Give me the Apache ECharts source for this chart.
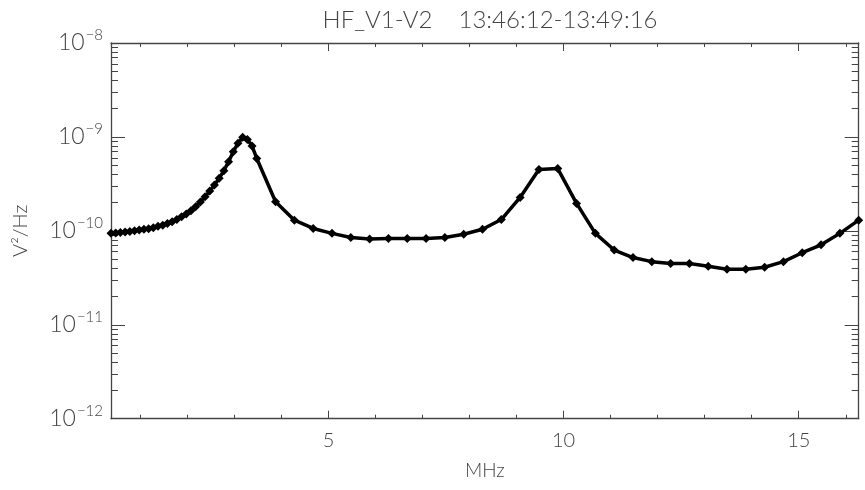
<!DOCTYPE html>
<html>
<head>
<meta charset="utf-8">
<script src="https://cdn.jsdelivr.net/npm/echarts@6/dist/echarts.min.js"></script>
<style>
html,body{margin:0;padding:0;background:#fff;}
#chart{width:865px;height:490px;}
</style>
</head>
<body>
<div id="chart"></div>
<script>
// ---- data ----
var titleText = 'HF_V1-V2    13:46:12-13:49:16';
var xName = 'MHz';
var yName = 'V²/Hz';
var xMin = 0.375, xMax = 16.275;
var yMin = 1e-12, yMax = 1e-8;
var xMajorTicks = [5, 10, 15];
var xMinorTicks = [1, 2, 3, 4, 6, 7, 8, 9, 11, 12, 13, 14, 16];
var yMinorTicks = [2e-12,3e-12,4e-12,5e-12,6e-12,7e-12,8e-12,9e-12,
                   2e-11,3e-11,4e-11,5e-11,6e-11,7e-11,8e-11,9e-11,
                   2e-10,3e-10,4e-10,5e-10,6e-10,7e-10,8e-10,9e-10,
                   2e-9,3e-9,4e-9,5e-9,6e-9,7e-9,8e-9,9e-9];

var freqHF1 = [0.375,0.475,0.575,0.675,0.775,0.875,0.975,1.075,1.175,1.275,
               1.375,1.475,1.575,1.675,1.775,1.875,1.975,2.075,2.175,2.275,
               2.375,2.475,2.575,2.675,2.775,2.875,2.975,3.075,3.175,3.275,
               3.375,3.475];
var psdHF1 = [9.4e-11,9.5e-11,9.6e-11,9.7e-11,9.85e-11,1.0e-10,1.02e-10,1.04e-10,1.05e-10,1.08e-10,
              1.12e-10,1.15e-10,1.2e-10,1.25e-10,1.32e-10,1.41e-10,1.51e-10,1.64e-10,1.81e-10,2.03e-10,
              2.31e-10,2.65e-10,3.08e-10,3.62e-10,4.37e-10,5.45e-10,6.97e-10,8.55e-10,9.9e-10,9.4e-10,
              8.0e-10,5.9e-10];
var freqHF2 = [3.875,4.275,4.675,5.075,5.475,5.875,6.275,6.675,7.075,7.475,
               7.875,8.275,8.675,9.075,9.475,9.875,10.275,10.675,11.075,11.475,
               11.875,12.275,12.675,13.075,13.475,13.875,14.275,14.675,15.075,15.475,
               15.875,16.275];
var psdHF2 = [2.04e-10,1.3e-10,1.06e-10,9.4e-11,8.5e-11,8.2e-11,8.3e-11,8.3e-11,8.3e-11,8.5e-11,
              9.2e-11,1.04e-10,1.32e-10,2.27e-10,4.5e-10,4.6e-10,1.96e-10,9.4e-11,6.25e-11,5.2e-11,
              4.7e-11,4.5e-11,4.5e-11,4.2e-11,3.9e-11,3.9e-11,4.1e-11,4.7e-11,5.85e-11,7.1e-11,
              9.4e-11,1.3e-10];

// ---- build ----
var pts = [];
freqHF1.forEach(function (f, i) { pts.push([f, psdHF1[i]]); });
freqHF2.forEach(function (f, i) { pts.push([f, psdHF2[i]]); });

var FONT = 'Lato';
var FW = 300;
var TXT = '#444';
var AX = '#444';

function xAxisDef(pos, ticks, len, labels, line) {
  return {
    type: 'value', position: pos, min: xMin, max: xMax,
    axisLine: {show: line, lineStyle: {color: AX, width: 1.3}},
    axisTick: {show: true, inside: true, length: len, customValues: ticks, lineStyle: {color: AX, width: 1}},
    axisLabel: labels ? {show: true, customValues: ticks, color: TXT, fontFamily: FONT, fontWeight: FW, fontSize: 20, margin: 12} : {show: false},
    splitLine: {show: false}
  };
}
function yLogDef(pos, labels) {
  return {
    type: 'log', logBase: 10, position: pos, min: yMin, max: yMax,
    axisLine: {show: true, lineStyle: {color: AX, width: 1.3}},
    axisTick: {show: true, inside: true, length: 14, lineStyle: {color: AX, width: 1}},
    axisLabel: labels ? {
      show: true, margin: 8,
      formatter: function (v) {
        var e = Math.round(Math.log(v) / Math.LN10);
        return '{b|10}{s|\u2212' + Math.abs(e) + '}';
      },
      rich: {
        b: {fontFamily: FONT, fontWeight: FW, fontSize: 23, color: TXT},
        s: {fontFamily: FONT, fontWeight: FW, fontSize: 15, color: TXT, verticalAlign: 'bottom', padding: [0, 0, 16, 1]}
      }
    } : {show: false},
    splitLine: {show: false},
    minorTick: {show: false}
  };
}
function yMinorDef(pos) {
  return {
    type: 'log', logBase: 10, position: pos, min: yMin, max: yMax,
    axisLine: {show: false},
    axisTick: {show: true, inside: true, length: 7, customValues: yMinorTicks, lineStyle: {color: AX, width: 1}},
    axisLabel: {show: false},
    splitLine: {show: false}
  };
}

var chart = echarts.init(document.getElementById('chart'), null, {renderer: 'canvas'});
var option = {
  backgroundColor: '#fff',
  animation: false,
  title: {
    text: titleText, left: 485, top: 3, textAlign: 'center',
    textStyle: {fontFamily: FONT, fontSize: 24, fontWeight: FW, color: TXT}
  },
  grid: {left: 111, right: 6.3, top: 43, bottom: 71.3, containLabel: false},
  xAxis: [
    Object.assign(xAxisDef('bottom', xMajorTicks, 8, true, true), {
      name: xName, nameLocation: 'middle', nameGap: 43,
      nameTextStyle: {fontFamily: FONT, fontWeight: FW, fontSize: 19, color: TXT}
    }),
    xAxisDef('bottom', xMinorTicks, 4, false, false),
    xAxisDef('top', xMajorTicks, 8, false, true),
    xAxisDef('top', xMinorTicks, 4, false, false)
  ],
  yAxis: [
    Object.assign(yLogDef('left', true), {
      name: yName, nameLocation: 'middle', nameGap: 80, nameRotate: 90,
      nameTextStyle: {fontFamily: FONT, fontWeight: FW, fontSize: 20, color: TXT}
    }),
    yMinorDef('left'),
    yLogDef('right', false),
    yMinorDef('right')
  ],
  series: [{
    type: 'line', xAxisIndex: 0, yAxisIndex: 0, data: pts,
    lineStyle: {color: '#000', width: 3.5},
    itemStyle: {color: '#000'},
    symbol: 'diamond', symbolSize: 9, showSymbol: true,
    clip: true
  }]
};
chart.setOption(option);
</script>
</body>
</html>
